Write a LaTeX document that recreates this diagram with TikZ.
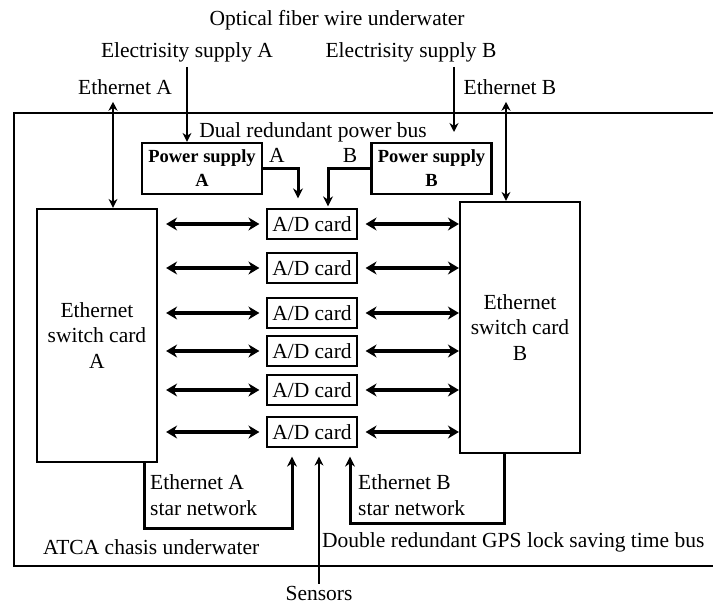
\documentclass[tikz,border=0pt]{standalone}
\usepackage{fontspec}
\setmainfont{Liberation Serif}
\usetikzlibrary{arrows.meta}

\begin{document}
\begin{tikzpicture}[x=1pt,y=-1pt,
  every node/.style={font=\fontsize{21.5}{25.5}\selectfont, inner sep=2pt},
  chassis/.style={line width=2.5pt},
  switchbox/.style={draw, line width=2.2pt, minimum width=120pt, align=center},
  psbox/.style={draw, line width=2.2pt, minimum width=120pt, minimum height=51pt,
    align=center, font=\fontsize{18.5}{24}\selectfont\bfseries},
  adcard/.style={draw, line width=1.2pt, minimum width=90pt, minimum height=30pt},
  link/.style={{Stealth[length=11pt,width=13pt]}-{Stealth[length=11pt,width=13pt]}, line width=3.8pt},
  uplink/.style={{Stealth[length=9pt,width=9pt]}-{Stealth[length=9pt,width=9pt]}, line width=2.4pt},
  feed/.style={-{Stealth[length=9pt,width=9pt]}, line width=2.2pt},
  busline/.style={-{Stealth[length=10pt,width=10pt]}, line width=3pt},
]
  \useasboundingbox (0,0) rectangle (713,605);

  %% Chassis outline (open on the right)
  \draw[chassis] (713,113) -- (14,113) -- (14,566) -- (713,566);

  %% Outside labels
  \node (fiber) at (337,20) {Optical fiber wire underwater};
  \node (elecA) at (187,52) {Electrisity supply A};
  \node (elecB) at (411,52) {Electrisity supply B};
  \node (ethA) at (125,87) {Ethernet A};
  \node (ethB) at (510,87) {Ethernet B};

  %% Power supplies and bus
  \node[psbox] (psA) at (202,168.5) {Power supply\\A};
  \node[psbox] (psB) at (431.5,168.5) {Power supply\\B};
  \node (busname) at (313,132) {Dual redundant power bus};
  \node (busA) at (277,155) {A};
  \node (busB) at (350,155) {B};

  %% Switch cards
  \node[switchbox, minimum height=253pt] (swA) at (97,335.5) {Ethernet\\switch card\\A};
  \node[switchbox, minimum height=251pt] (swB) at (520,327.5) {Ethernet\\switch card\\B};

  %% A/D cards
  \foreach \i/\y in {1/224,2/268,3/313,4/351,5/390,6/432}
    \node[adcard] (c\i) at (312,\y) {A/D card};

  % card links to both switches
  \foreach \i in {1,...,6} {
    \draw[link, shorten <=8pt, shorten >=7pt] (swA.east |- c\i.west) -- (c\i.west);
    \draw[link, shorten <=8pt] (c\i.east) -- (swB.west |- c\i.east);
  }

  %% Feeds from outside
  \draw[feed, shorten <=3pt] (elecA.south) -- (elecA.south |- psA.north);
  \coordinate (dropB) at (454,132);
  \draw[feed, shorten <=3pt] (dropB |- elecB.south) -- (dropB);
  \draw[uplink, shorten <=5pt] ([xshift=-12pt]ethA.south) -- ([xshift=-12pt]ethA.south |- swA.north);
  \draw[uplink, shorten <=5pt] ([xshift=-4pt]ethB.south) -- ([xshift=-4pt]ethB.south |- swB.north);

  % power bus down to the cards
  \draw[busline, shorten >=10pt] (psA.east) -| ([xshift=-14pt]c1.north);
  \draw[busline, shorten >=2pt] (psB.west) -| ([xshift=16pt]c1.north);

  %% Star networks and sensors
  \coordinate (cornerA) at (292,528);
  \coordinate (cornerB) at (350,523);
  \draw[busline, shorten >=9pt] ([xshift=-14pt]swA.south east) |- (cornerA) -- (cornerA |- c6.south);
  \draw[busline, shorten >=9pt] ([xshift=46pt]swB.south west) |- (cornerB) -- (cornerB |- c6.south);
  \node (sens) at (319,593) {Sensors};
  \draw[feed, shorten >=9pt] (sens.north) -- (sens.north |- c6.south);

  \node[anchor=west, align=left] (starAtxt) at (148,495) {Ethernet A\\star network};
  \node[anchor=west, align=left] (starBtxt) at (356,495) {Ethernet B\\star network};
  \node[anchor=west] (atca) at (41,547) {ATCA chasis underwater};
  \node[anchor=west] (gps) at (320,542) {Double redundant GPS lock saving time bus};
\end{tikzpicture}
\end{document}
